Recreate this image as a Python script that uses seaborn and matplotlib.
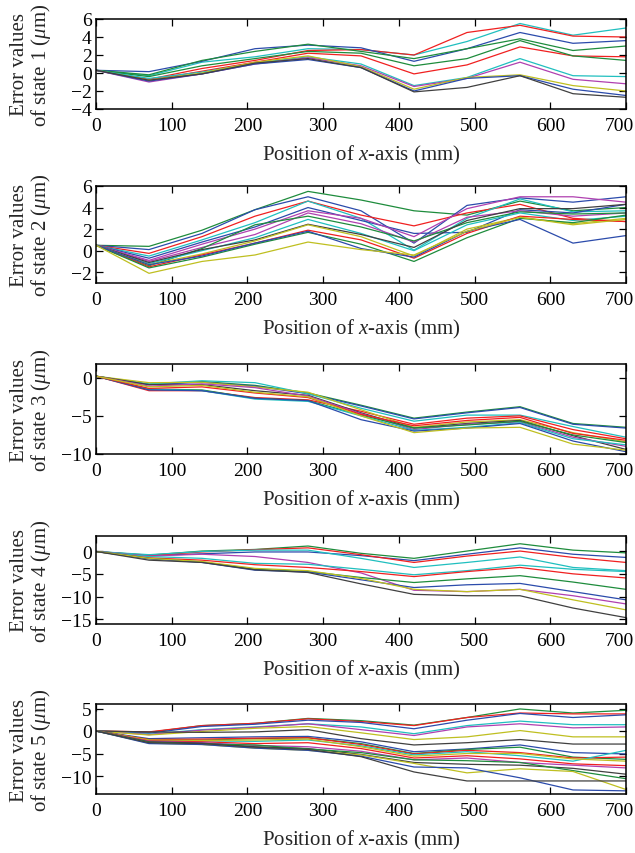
import numpy as np
import pandas as pd
import matplotlib
matplotlib.use('Agg')
import matplotlib.pyplot as plt
from matplotlib.transforms import ScaledTranslation
import seaborn as sns

# measuring positions along x-axis (mm)
positions = [0, 70, 140, 210, 280, 350, 420, 490, 560, 630, 700]

# MATLAB-like line colours
B, G, R, C, M, Y, K = '#2b4bab', '#1e8c3c', '#f02020', '#20bfbf', '#b040b0', '#bfbf20', '#404040'

# state 1
state1_colors = [C, R, B, G, R, G, C, M, Y, B, K]
state1 = [
    [0.3, -0.3, 1.2, 1.8, 2.7, 2.6, 2.0, 3.5, 5.5, 4.2, 5.0],
    [0.3, -0.7, 0.5, 1.4, 2.5, 2.6, 2.0, 4.5, 5.3, 4.1, 4.0],
    [0.3, 0.15, 1.3, 2.7, 3.1, 2.8, 1.3, 2.7, 4.5, 3.3, 3.6],
    [0.3, -0.2, 1.4, 2.4, 3.2, 2.4, 1.6, 2.7, 3.8, 2.5, 3.0],
    [0.3, -0.8, 0.2, 1.2, 2.2, 1.9, -0.1, 0.9, 2.9, 1.9, 1.8],
    [0.3, -0.4, 0.8, 1.6, 2.4, 2.2, 0.8, 1.6, 3.6, 1.9, 1.4],
    [0.3, -0.6, 0.1, 1.1, 1.8, 1.0, -1.4, -0.5, 1.6, -0.3, -0.4],
    [0.3, -1.0, -0.1, 1.0, 1.7, 0.8, -1.5, -0.6, 1.2, -0.7, -1.2],
    [0.3, -0.8, 0.0, 1.2, 1.9, 0.7, -1.8, -0.5, -0.2, -1.4, -2.0],
    [0.3, -0.9, -0.1, 1.0, 1.5, 0.6, -2.0, -0.6, -0.3, -1.8, -2.5],
    [0.3, -0.8, -0.1, 1.1, 1.6, 0.6, -2.1, -1.6, -0.3, -2.3, -2.7],
]

# state 2
state2_colors = [G, B, R, C, B, M, M, G, C, K, Y, R, G, B, Y]
state2 = [
    [0.5, 0.4, 1.9, 3.8, 5.5, 4.7, 3.7, 3.3, 4.6, 3.7, 4.0],
    [0.5, 0.1, 1.6, 3.8, 5.0, 3.7, 0.7, 4.2, 4.9, 4.5, 5.0],
    [0.5, -0.25, 1.3, 3.2, 4.6, 3.3, 2.3, 3.5, 4.3, 3.0, 2.7],
    [0.5, -0.5, 1.0, 2.6, 4.6, 3.0, 0.05, 3.0, 4.8, 3.6, 3.7],
    [0.5, -0.7, 0.8, 2.2, 4.0, 2.8, 1.6, 1.7, 3.8, 3.5, 4.3],
    [0.5, -0.9, 0.6, 2.0, 3.7, 3.0, 1.3, 3.9, 5.0, 5.0, 4.5],
    [0.5, -1.0, 0.3, 1.5, 3.5, 2.5, 0.8, 3.1, 3.7, 3.2, 3.5],
    [0.5, -1.4, 0.2, 2.4, 3.2, 2.2, 0.9, 2.6, 3.6, 3.4, 3.5],
    [0.5, -1.2, 0.0, 1.2, 2.9, 1.6, 0.0, 2.4, 3.5, 2.8, 3.2],
    [0.5, -1.1, 0.1, 1.0, 2.45, 1.5, 0.3, 2.8, 3.9, 3.9, 4.3],
    [0.5, -1.3, -0.3, 0.9, 2.4, 1.3, -0.5, 2.0, 3.1, 2.5, 3.0],
    [0.5, -1.5, -0.4, 0.7, 1.9, 1.0, -0.7, 1.6, 3.2, 2.9, 2.7],
    [0.5, -1.6, -0.6, 0.6, 1.7, 0.6, -1.0, 1.2, 3.0, 2.6, 3.3],
    [0.5, -1.3, -0.5, 0.7, 1.8, 0.2, -0.6, 1.8, 2.9, 0.7, 1.4],
    [0.5, -2.1, -1.0, -0.4, 0.8, 0.1, -0.4, 1.8, 3.1, 2.4, 2.9],
]

# state 3
state3_colors = [G, B, C, R, Y, K, M, G, C, B, R, Y]
state3 = [
    [0.2, -0.9, -0.5, -1.0, -2.0, -3.6, -5.3, -4.5, -3.8, -6.0, -6.5],
    [0.2, -0.9, -0.6, -1.1, -2.1, -3.7, -5.4, -4.6, -3.9, -6.1, -6.6],
    [0.2, -0.8, -0.4, -0.65, -2.1, -4.0, -5.7, -4.9, -4.9, -6.4, -7.8],
    [0.2, -1.7, -1.7, -2.6, -2.9, -4.4, -6.1, -5.3, -5.0, -6.8, -8.0],
    [0.2, -0.65, -0.6, -1.2, -1.9, -4.2, -6.5, -5.8, -5.5, -7.2, -8.4],
    [0.2, -0.9, -0.9, -1.7, -2.3, -4.6, -6.6, -6.0, -5.6, -7.6, -9.4],
    [0.2, -1.1, -0.8, -1.3, -2.4, -4.7, -6.8, -6.1, -5.8, -7.8, -9.0],
    [0.2, -1.5, -1.6, -2.7, -3.0, -4.9, -6.6, -6.2, -5.7, -7.5, -8.5],
    [0.2, -1.5, -1.7, -2.8, -3.1, -5.0, -6.9, -6.5, -5.9, -8.0, -8.8],
    [0.2, -1.6, -1.7, -2.7, -3.0, -5.5, -7.0, -6.6, -6.0, -8.3, -9.7],
    [0.2, -1.4, -1.2, -2.0, -2.6, -4.8, -6.3, -5.6, -5.2, -7.3, -8.2],
    [0.2, -1.2, -1.0, -1.9, -2.5, -5.0, -7.2, -6.6, -6.5, -8.7, -9.5],
]

# state 4
state4_colors = [G, B, R, C, M, C, R, G, B, Y, K]
state4 = [
    [-0.1, -0.9, 0.0, 0.35, 1.1, -0.5, -1.6, 0.0, 1.6, 0.2, -0.4],
    [-0.1, -1.0, -0.6, -0.2, -0.2, -1.0, -2.1, -0.7, 0.7, -0.7, -1.4],
    [-0.1, -1.0, -0.2, 0.3, 0.7, -0.8, -2.5, -1.1, 0.0, -1.4, -2.5],
    [-0.1, -0.8, -0.1, 0.2, 0.2, -1.6, -3.6, -2.5, -1.3, -3.6, -4.3],
    [-0.1, -1.1, -0.7, -1.2, -2.5, -4.8, -8.6, -8.9, -8.4, -9.8, -11.6],
    [-0.1, -1.2, -1.6, -2.7, -2.9, -4.0, -5.2, -4.3, -3.1, -4.0, -4.5],
    [-0.1, -1.5, -2.0, -3.0, -3.6, -4.5, -5.6, -4.5, -3.6, -5.0, -5.9],
    [-0.1, -1.6, -2.4, -4.0, -4.5, -5.8, -6.9, -6.1, -5.4, -6.8, -8.4],
    [-0.1, -1.7, -2.5, -4.2, -4.6, -6.3, -8.0, -7.4, -7.1, -8.9, -10.7],
    [-0.1, -1.6, -2.3, -3.8, -4.3, -6.0, -8.4, -8.9, -8.4, -10.7, -12.9],
    [-0.1, -2.0, -2.5, -4.1, -4.7, -7.2, -9.5, -9.8, -9.8, -12.5, -14.6],
]

# state 5
state5_colors = [G, R, B, C, M, Y, K, B, G, R, C, Y, R, M, K, G, Y, B, K]
state5 = [
    [0, -0.3, 1.2, 1.7, 2.8, 2.3, 1.3, 3.0, 4.9, 4.0, 4.6],
    [0, -0.2, 1.2, 1.7, 2.7, 2.1, 1.2, 3.0, 4.0, 3.8, 3.8],
    [0, -0.5, 1.0, 1.5, 2.4, 1.9, 0.5, 2.4, 3.9, 3.0, 3.6],
    [0, -0.7, 0.3, 0.9, 1.6, 0.9, -0.6, 1.2, 2.2, 1.4, 1.4],
    [0, -0.8, 0.2, 0.8, 1.6, 0.3, -1.0, 0.9, 1.6, 0.7, 0.9],
    [0, -0.9, -0.1, 0.6, 1.0, -0.4, -1.9, -1.3, 0.1, -1.3, -1.3],
    [0, -0.2, -0.3, -0.2, 0.3, -1.7, -3.1, -2.6, -1.9, -2.9, -2.9],
    [0, -1.7, -1.5, -1.3, -1.2, -2.4, -4.6, -4.0, -3.1, -4.8, -5.1],
    [0, -1.9, -2.0, -1.7, -1.5, -2.8, -5.0, -4.1, -3.6, -5.8, -6.3],
    [0, -1.9, -1.8, -1.6, -1.5, -3.0, -5.1, -4.3, -4.8, -6.0, -5.8],
    [0, -2.1, -2.2, -2.3, -2.0, -3.3, -5.3, -4.6, -5.5, -6.7, -4.3],
    [0, -2.0, -2.1, -2.0, -1.8, -3.5, -5.6, -5.0, -5.0, -6.2, -6.7],
    [0, -2.2, -2.4, -2.8, -2.6, -3.9, -6.0, -5.5, -6.2, -7.3, -7.7],
    [0, -2.3, -2.6, -3.2, -3.5, -4.5, -6.4, -6.0, -7.0, -7.6, -8.2],
    [0, -2.4, -2.7, -3.5, -3.9, -5.2, -7.0, -7.4, -7.6, -8.3, -9.6],
    [0, -2.5, -2.9, -3.1, -4.0, -4.8, -6.4, -6.6, -7.0, -8.8, -10.6],
    [0, -2.7, -3.0, -3.8, -4.3, -5.3, -7.2, -9.3, -8.4, -9.0, -13.0],
    [0, -2.8, -3.0, -3.8, -4.3, -5.6, -8.0, -8.2, -10.4, -13.1, -13.3],
    [0, -2.6, -2.8, -3.6, -4.1, -5.7, -9.1, -11.1, -11.1, -11.1, -11.1],
]

states = [state1, state2, state3, state4, state5]
state_colors = [state1_colors, state2_colors, state3_colors, state4_colors, state5_colors]
ylims = [(-4, 6), (-3, 6), (-10, 1.8), (-16, 3.3), (-14, 6)]
yticks = [[-4, -2, 0, 2, 4, 6], [-2, 0, 2, 4, 6], [-10, -5, 0], [-15, -10, -5, 0], [-10, -5, 0, 5]]

# axes boxes in pixels (top, bottom)
boxes = [(20, 110), (187, 284), (365, 455), (537, 625), (705, 795)]
W, H = 635, 854
left_px, right_px = 96, 626

sns.set_theme(style='ticks')
plt.rcParams['font.family'] = ['Liberation Serif', 'DejaVu Serif']
plt.rcParams['mathtext.fontset'] = 'custom'
plt.rcParams['mathtext.rm'] = 'Liberation Serif'
plt.rcParams['mathtext.it'] = 'Liberation Serif:italic'

fig = plt.figure(figsize=(W / 100, H / 100), dpi=100)

for i in range(5):
    top, bot = boxes[i]
    ax = fig.add_axes([left_px / W, 1 - bot / H, (right_px - left_px) / W, (bot - top) / H])
    rows = []
    for j, vals in enumerate(states[i]):
        for p, v in zip(positions, vals):
            rows.append({'pos': p, 'err': v, 'line': j})
    df = pd.DataFrame(rows)
    sns.lineplot(data=df, x='pos', y='err', hue='line', palette=state_colors[i],
                 legend=False, linewidth=0.9, ax=ax)
    ax.set_xlim(0, 700)
    ax.set_ylim(*ylims[i])
    ax.set_xticks(range(0, 701, 100))
    ax.set_yticks(yticks[i])
    ax.tick_params(direction='in', top=True, right=True, labelsize=14,
                   length=5, width=0.9, colors='black')
    ax.tick_params(axis='x', pad=6)
    ax.tick_params(axis='y', pad=3)
    for s in ax.spines.values():
        s.set_linewidth(1.1)
        s.set_color('black')
    # keep the last x label inside the figure
    last = ax.get_xticklabels()[-1]
    last.set_transform(last.get_transform() + ScaledTranslation(-0.07, 0, fig.dpi_scale_trans))
    ax.set_xlabel('Position of $x$-axis (mm)', fontsize=15, labelpad=6)
    ax.set_ylabel('Error values\nof state %d ($\\mu$m)' % (i + 1), fontsize=15,
                  linespacing=1.0)
    ax.yaxis.set_label_coords(-0.081, 0.5)

fig.savefig('out.png', dpi=100, facecolor='white')
